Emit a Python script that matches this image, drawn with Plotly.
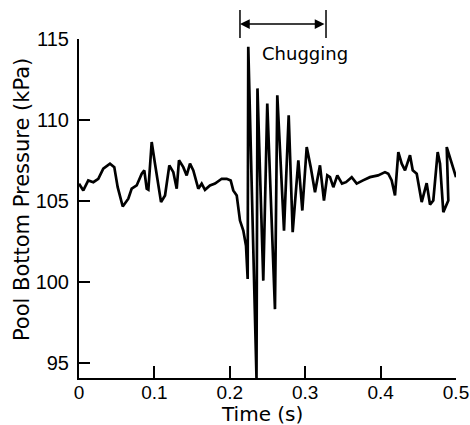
import plotly.graph_objects as go

# Time (s) and pool bottom pressure (kPa)
time_s = [0.0, 0.0057, 0.0123, 0.0190, 0.0256, 0.0322, 0.0411, 0.0468, 0.0513, 0.0580,
          0.0654, 0.0699, 0.0765, 0.0832, 0.0866, 0.0898, 0.0920, 0.0964, 0.1008, 0.1088,
          0.1141, 0.1198, 0.1251, 0.1296, 0.1326, 0.1383, 0.1428, 0.1472, 0.1516, 0.1582,
          0.1627, 0.1671, 0.1737, 0.1804, 0.1893, 0.1959, 0.2012, 0.2046, 0.2092, 0.2135,
          0.2179, 0.2215, 0.2237, 0.2245, 0.2354, 0.2367, 0.2444, 0.2497, 0.2599, 0.2630,
          0.2719, 0.2781, 0.2834, 0.2909, 0.2962, 0.3020, 0.3073, 0.3130, 0.3196, 0.3249,
          0.3293, 0.3329, 0.3373, 0.3426, 0.3488, 0.3541, 0.3617, 0.3683, 0.3767, 0.3859,
          0.3966, 0.4058, 0.4102, 0.4147, 0.4191, 0.4235, 0.4280, 0.4324, 0.4390, 0.4426,
          0.4479, 0.4545, 0.4611, 0.4655, 0.4699, 0.4757, 0.4788, 0.4832, 0.4898, 0.4877,
          0.5000]
pressure_kpa = [106.07, 105.65, 106.27, 106.16, 106.37, 106.99, 107.30, 107.09, 105.85, 104.66,
                105.14, 105.76, 105.96, 106.68, 106.89, 105.76, 105.70, 108.64, 107.30, 104.93,
                105.34, 107.20, 106.78, 105.76, 107.51, 107.09, 106.58, 107.30, 106.89, 105.76,
                106.07, 105.69, 105.96, 106.07, 106.37, 106.37, 106.27, 105.65, 105.34, 103.79,
                103.17, 102.24, 100.18, 114.52, 94.07, 111.95, 100.08, 111.02, 98.32, 111.53,
                103.17, 110.29, 103.07, 107.51, 104.41, 108.33, 107.09, 105.54, 107.20, 105.03,
                106.58, 106.47, 105.85, 106.58, 106.07, 106.16, 106.47, 106.07, 106.27, 106.47,
                106.58, 106.78, 106.68, 106.27, 105.34, 108.02, 107.30, 106.89, 107.82, 106.89,
                106.68, 104.93, 106.10, 104.78, 105.03, 108.02, 107.30, 104.31, 105.03, 108.33,
                106.47]

x_ticks = [0, 0.1, 0.2, 0.3, 0.4, 0.5]
x_tick_labels = ["0", "0.1", "0.2", "0.3", "0.4", "0.5"]
y_ticks = [95, 100, 105, 110, 115]
y_tick_labels = ["95", "100", "105", "110", "115"]
chug_window = [0.2135, 0.3276]
chug_label = "Chugging"

TITLEFONT = dict(family="DejaVu Sans", size=20, color="black")

fig = go.Figure()
fig.add_trace(go.Scatter(x=time_s, y=pressure_kpa, mode="lines",
                         line=dict(color="black", width=2.7), showlegend=False,
                         cliponaxis=False))

fig.update_layout(
    width=470, height=425,
    margin=dict(l=79, r=14, t=39, b=47, autoexpand=False),
    paper_bgcolor="white", plot_bgcolor="white",
    xaxis=dict(range=[0, 0.5], tickvals=x_ticks, ticktext=x_tick_labels,
               showgrid=False, zeroline=False, showline=True, linecolor="black", linewidth=2,
               ticks="inside", ticklen=12, tickwidth=2, tickcolor="black",
               tickfont=dict(family="Liberation Sans", size=19, color="black"),
               ticklabelstandoff=-4, ticklabeloverflow="allow"),
    yaxis=dict(range=[94.07, 115], tickvals=y_ticks, ticktext=y_tick_labels,
               showgrid=False, zeroline=False, showline=True, linecolor="black", linewidth=2,
               ticks="inside", ticklen=11, tickwidth=2, tickcolor="black",
               tickfont=dict(family="Liberation Sans", size=20, color="black"),
               ticklabelstandoff=4),
)

# Axis titles
fig.add_annotation(text="Time (s)", xref="paper", yref="paper", x=0.485, y=-0.105,
                   xanchor="center", yanchor="middle", showarrow=False, font=TITLEFONT)
fig.add_annotation(text="Pool Bottom Pressure (kPa)", xref="paper", yref="paper",
                   x=-0.151, y=0.525, xanchor="center", yanchor="middle", textangle=-90,
                   showarrow=False, font=dict(family="DejaVu Sans", size=21, color="black"))

# Chugging bracket
for xv in chug_window:
    fig.add_shape(type="line", xref="x", yref="paper", x0=xv, x1=xv, y0=1.003, y1=1.0856,
                  line=dict(color="black", width=1.5))
fig.add_annotation(x=chug_window[0], y=1.044, ax=chug_window[1], ay=0,
                   xref="x", yref="paper", axref="x", ayref="pixel", text="",
                   showarrow=True, arrowside="end+start", arrowhead=2, arrowsize=1.3,
                   arrowwidth=1.5, arrowcolor="black", standoff=0, startstandoff=0)
fig.add_annotation(text=chug_label, xref="x", yref="paper", x=sum(chug_window) / 2 + 0.029,
                   y=0.956, xanchor="center", yanchor="middle", showarrow=False,
                   font=dict(family="DejaVu Sans", size=18, color="black"))

fig.write_html("out.html", config={"displayModeBar": False},
               post_script="document.body.style.margin='0px';document.body.style.overflow='hidden';")
